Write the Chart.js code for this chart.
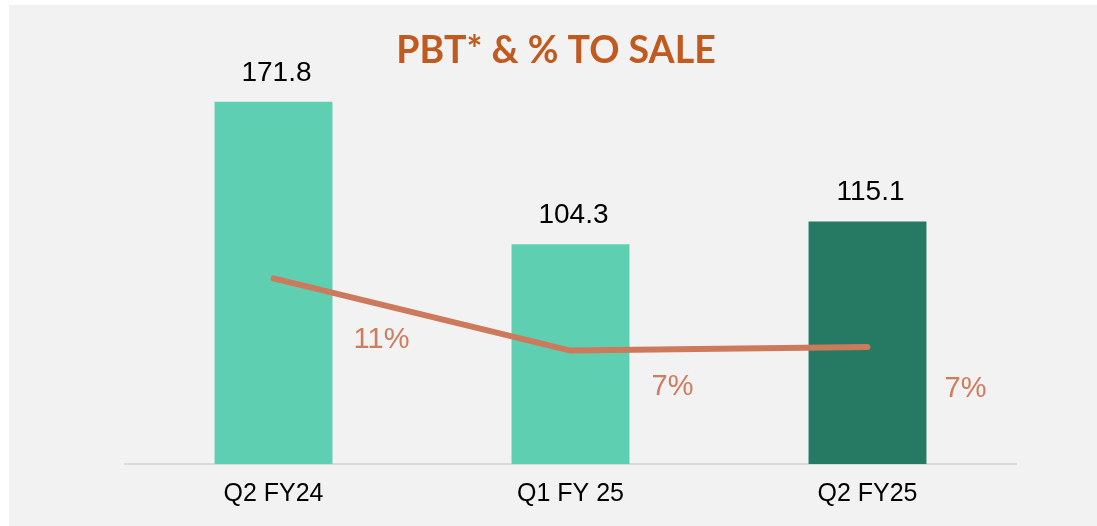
<!DOCTYPE html>
<html>
<head>
<meta charset="utf-8">
<script src="https://cdn.jsdelivr.net/npm/chart.js@4.4.1/dist/chart.umd.min.js"></script>
<style>
  html, body { margin: 0; padding: 0; background: #ffffff; }
  #wrap { position: absolute; left: 9px; top: 5px; width: 1088px; height: 521px; background: #f2f2f2; }
</style>
</head>
<body>
<div id="wrap"><canvas id="chart" width="1088" height="521"></canvas></div>
<script>
const categories = ["Q2 FY24", "Q1 FY 25", "Q2 FY25"];
const pbtValues = [171.8, 104.3, 115.1];
const pctToSale = [11.0, 7.0, 7.2];
const barColors = ["#5fcfb2", "#5fcfb2", "#267a63"];
const titleText = "PBT* & % TO SALE";

// title, labels on bars and the % text beside the line
const labelPlugin = {
  id: "labels",
  afterDatasetsDraw(chart, args, opts) {
    const ctx = chart.ctx;
    ctx.save();
    ctx.textAlign = "center";
    ctx.textBaseline = "middle";

    ctx.font = "bold 37.5px Lato, 'Open Sans', sans-serif";
    ctx.fillStyle = "#c05a1f";
    ctx.fillText(titleText, 547, 46);

    const lineMeta = chart.getDatasetMeta(0);
    const barMeta = chart.getDatasetMeta(1);

    ctx.font = "28px 'Liberation Sans', Arial, sans-serif";
    ctx.fillStyle = "#000000";
    barMeta.data.forEach((bar, i) => {
      ctx.fillText(pbtValues[i].toFixed(1), bar.x + 3, bar.y - 29);
    });

    ctx.font = "29px 'Liberation Sans', Arial, sans-serif";
    ctx.fillStyle = "#cf7b5d";
    lineMeta.data.forEach((pt, i) => {
      const off = opts.offsets[i];
      ctx.fillText(Math.round(pctToSale[i]) + "%", pt.x + off[0], pt.y + off[1]);
    });
    ctx.restore();
  }
};

new Chart(document.getElementById("chart"), {
  data: {
    labels: categories,
    datasets: [
      {
        type: "line",
        data: pctToSale,
        yAxisID: "y1",
        borderColor: "#cd7a5c",
        borderWidth: 6,
        borderCapStyle: "round",
        borderJoinStyle: "round",
        pointRadius: 0,
        tension: 0,
        order: 0
      },
      {
        type: "bar",
        data: pbtValues,
        yAxisID: "y",
        backgroundColor: barColors,
        borderWidth: 0,
        barPercentage: 0.397,
        categoryPercentage: 1,
        order: 1
      }
    ]
  },
  options: {
    responsive: false,
    animation: false,
    layout: { padding: { left: 116, right: 81, top: 76, bottom: 2 } },
    plugins: {
      legend: { display: false },
      tooltip: { enabled: false },
      title: { display: false },
      labels: { offsets: [[108, 62], [102, 36], [98, 42]] }
    },
    scales: {
      x: {
        grid: { display: false, drawTicks: false },
        border: { display: true, color: "#d9d9d9", width: 2 },
        ticks: {
          color: "#000000",
          padding: 15,
          font: { family: "'Liberation Sans', Arial, sans-serif", size: 25 }
        }
      },
      y: { display: false, min: 0, max: 181.7 },
      y1: { display: false, min: 0.72, max: 21.93 }
    }
  },
  plugins: [labelPlugin]
});
</script>
</body>
</html>
